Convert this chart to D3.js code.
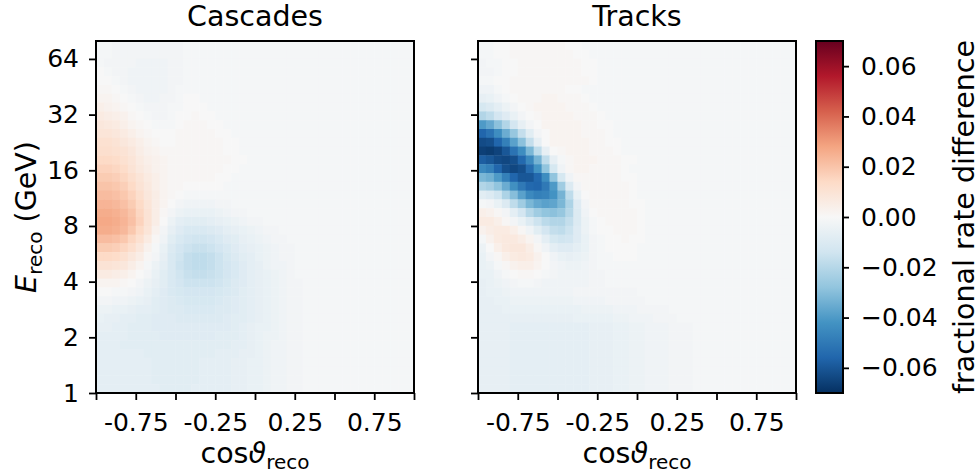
<!DOCTYPE html>
<html>
<head>
<meta charset="utf-8">
<script src="https://cdn.jsdelivr.net/npm/d3@7.9.0/dist/d3.min.js"></script>
<style>
  body { margin: 0; background: #fff; }
  svg { display: block; font-family: "DejaVu Sans", sans-serif; }
</style>
</head>
<body>
<svg id="chart" width="980" height="473"></svg>
<script>
// -------------------------
// Data: fractional rate difference in units of 0.001
// 40 x 40 bins, rows from highest energy (top) to lowest, columns from cos = -1 to 1
// -------------------------
const cascades = [
  [-1,-1,-2,-2,-2,-2,-2,-2,-2,-2,-2,-1,-1,-1,-1,-1,-1,-1,-1,-1,-1,-1,-1,-1,-1,-1,-1,-1,-1,-1,-1,-1,-1,-1,-1,-1,-1,-1,-1,-1],
  [-1,-1,-2,-2,-2,-2,-2,-2,-2,-2,-2,-1,-1,-1,-1,-1,-1,-1,-1,-1,-1,-1,-1,-1,-1,-1,-1,-1,-1,-1,-1,-1,-1,-1,-1,-1,-1,-1,-1,-1],
  [-1,-2,-2,-2,-2,-3,-3,-3,-3,-2,-2,-1,-1,-1,-1,-1,-1,-1,-1,-1,-1,-1,-1,-1,-1,-1,-1,-1,-1,-1,-1,-1,-1,-1,-1,-1,-1,-1,-1,-1],
  [0,-1,-2,-2,-3,-3,-3,-3,-3,-2,-2,-1,-1,-1,-1,-1,-1,-1,-1,-1,-1,-1,-1,-1,-1,-1,-1,-1,-1,-1,-1,-1,-1,-1,-1,-1,-1,-1,-1,-1],
  [0,0,-1,-2,-3,-3,-3,-3,-3,-2,-2,-1,-1,-1,-1,-1,-1,-1,-1,-1,-1,-1,-1,-1,-1,-1,-1,-1,-1,-1,-1,-1,-1,-1,-1,-1,-1,-1,-1,-1],
  [1,1,0,-1,-2,-3,-3,-3,-3,-2,-1,-1,-1,-1,-1,-1,-1,-1,-1,-1,-1,-1,-1,-1,-1,-1,-1,-1,-1,-1,-1,-1,-1,-1,-1,-1,-1,-1,-1,-1],
  [2,2,1,0,-1,-2,-3,-3,-2,-2,-1,0,0,-1,-1,-1,-1,-1,-1,-1,-1,-1,-1,-1,-1,-1,-1,-1,-1,-1,-1,-1,-1,-1,-1,-1,-1,-1,-1,-1],
  [4,3,2,1,0,-1,-2,-2,-2,-1,-1,0,0,0,-1,-1,-1,-1,-1,-1,-1,-1,-1,-1,-1,-1,-1,-1,-1,-1,-1,-1,-1,-1,-1,-1,-1,-1,-1,-1],
  [6,5,4,3,1,0,-1,-2,-2,-1,0,0,1,0,0,-1,-1,-1,-1,-1,-1,-1,-1,-1,-1,-1,-1,-1,-1,-1,-1,-1,-1,-1,-1,-1,-1,-1,-1,-1],
  [8,7,6,4,2,1,0,-1,-1,-1,0,1,1,1,0,0,-1,-1,-1,-1,-1,-1,-1,-1,-1,-1,-1,-1,-1,-1,-1,-1,-1,-1,-1,-1,-1,-1,-1,-1],
  [9,9,8,6,4,2,1,0,0,0,1,1,1,1,1,0,0,-1,-1,-1,-1,-1,-1,-1,-1,-1,-1,-1,-1,-1,-1,-1,-1,-1,-1,-1,-1,-1,-1,-1],
  [11,11,10,8,6,4,2,1,0,0,1,1,1,1,1,1,0,0,-1,-1,-1,-1,-1,-1,-1,-1,-1,-1,-1,-1,-1,-1,-1,-1,-1,-1,-1,-1,-1,-1],
  [12,12,11,10,8,5,3,2,1,1,1,1,1,1,1,1,0,0,-1,-1,-1,-1,-1,-1,-1,-1,-1,-1,-1,-1,-1,-1,-1,-1,-1,-1,-1,-1,-1,-1],
  [14,14,13,11,9,6,4,3,2,1,1,1,1,1,1,1,1,0,0,-1,-1,-1,-1,-1,-1,-1,-1,-1,-1,-1,-1,-1,-1,-1,-1,-1,-1,-1,-1,-1],
  [16,16,15,13,10,7,5,3,2,1,1,1,1,1,1,1,0,0,-1,-1,-1,-1,-1,-1,-1,-1,-1,-1,-1,-1,-1,-1,-1,-1,-1,-1,-1,-1,-1,-1],
  [18,18,17,15,12,9,6,4,2,1,1,1,1,1,1,0,0,-1,-1,-1,-1,-1,-1,-1,-1,-1,-1,-1,-1,-1,-1,-1,-1,-1,-1,-1,-1,-1,-1,-1],
  [20,20,19,17,14,10,7,4,2,1,1,0,0,0,0,0,-1,-1,-1,-1,-1,-1,-1,-1,-1,-1,-1,-1,-1,-1,-1,-1,-1,-1,-1,-1,-1,-1,-1,-1],
  [22,22,21,19,16,12,8,5,2,1,0,-1,-1,-1,-1,-1,-1,-1,-1,-1,-1,-1,-1,-1,-1,-1,-1,-1,-1,-1,-1,-1,-1,-1,-1,-1,-1,-1,-1,-1],
  [24,24,23,21,18,14,9,5,2,0,-2,-3,-3,-3,-3,-2,-2,-1,-1,-1,-1,-1,-1,-1,-1,-1,-1,-1,-1,-1,-1,-1,-1,-1,-1,-1,-1,-1,-1,-1],
  [26,26,25,23,20,15,10,5,1,-2,-4,-5,-5,-5,-5,-4,-3,-2,-2,-1,-1,-1,-1,-1,-1,-1,-1,-1,-1,-1,-1,-1,-1,-1,-1,-1,-1,-1,-1,-1],
  [27,27,26,24,21,16,10,5,0,-4,-7,-8,-8,-8,-7,-6,-5,-4,-3,-2,-2,-1,-1,-1,-1,-1,-1,-1,-1,-1,-1,-1,-1,-1,-1,-1,-1,-1,-1,-1],
  [26,26,25,23,19,14,9,3,-2,-6,-9,-11,-11,-11,-10,-9,-7,-6,-5,-4,-3,-2,-2,-1,-1,-1,-1,-1,-1,-1,-1,-1,-1,-1,-1,-1,-1,-1,-1,-1],
  [22,22,21,19,15,11,6,1,-3,-8,-11,-13,-14,-14,-13,-11,-9,-8,-6,-5,-4,-3,-2,-2,-1,-1,-1,-1,-1,-1,-1,-1,-1,-1,-1,-1,-1,-1,-1,-1],
  [18,18,17,15,12,8,3,-1,-5,-10,-13,-15,-16,-16,-15,-13,-11,-9,-7,-6,-5,-4,-3,-2,-2,-1,-1,-1,-1,-1,-1,-1,-1,-1,-1,-1,-1,-1,-1,-1],
  [14,14,13,11,8,5,1,-2,-6,-11,-14,-17,-18,-18,-17,-15,-12,-10,-8,-7,-5,-4,-3,-2,-2,-1,-1,-1,-1,-1,-1,-1,-1,-1,-1,-1,-1,-1,-1,-1],
  [10,10,9,8,5,2,-1,-4,-7,-11,-15,-17,-18,-18,-17,-15,-13,-11,-9,-7,-6,-4,-3,-3,-2,-1,-1,-1,-1,-1,-1,-1,-1,-1,-1,-1,-1,-1,-1,-1],
  [6,6,5,4,2,0,-2,-5,-8,-11,-14,-16,-17,-17,-16,-15,-13,-11,-9,-7,-6,-5,-4,-3,-2,-1,-1,-1,-1,-1,-1,-1,-1,-1,-1,-1,-1,-1,-1,-1],
  [2,2,2,1,0,-2,-4,-6,-8,-11,-13,-15,-15,-15,-15,-14,-12,-10,-9,-7,-6,-5,-4,-3,-2,-2,-1,-1,-1,-1,-1,-1,-1,-1,-1,-1,-1,-1,-1,-1],
  [0,0,-1,-1,-2,-3,-5,-7,-9,-11,-12,-13,-13,-13,-13,-12,-11,-10,-8,-7,-6,-5,-4,-3,-2,-2,-1,-1,-1,-1,-1,-1,-1,-1,-1,-1,-1,-1,-1,-1],
  [-2,-2,-3,-3,-4,-5,-6,-8,-9,-10,-11,-12,-12,-12,-12,-11,-10,-9,-8,-7,-6,-5,-4,-3,-2,-2,-1,-1,-1,-1,-1,-1,-1,-1,-1,-1,-1,-1,-1,-1],
  [-4,-4,-5,-5,-6,-7,-7,-8,-9,-10,-10,-11,-11,-11,-11,-10,-10,-9,-8,-7,-6,-5,-4,-3,-2,-2,-1,-1,-1,-1,-1,-1,-1,-1,-1,-1,-1,-1,-1,-1],
  [-5,-6,-6,-7,-7,-8,-8,-9,-9,-9,-10,-10,-10,-10,-10,-10,-9,-8,-8,-7,-6,-5,-4,-3,-2,-2,-1,-1,-1,-1,-1,-1,-1,-1,-1,-1,-1,-1,-1,-1],
  [-6,-6,-7,-7,-8,-8,-8,-9,-9,-9,-9,-9,-9,-9,-9,-9,-9,-8,-7,-6,-5,-5,-4,-3,-2,-2,-1,-1,-1,-1,-1,-1,-1,-1,-1,-1,-1,-1,-1,-1],
  [-7,-7,-7,-7,-8,-8,-8,-8,-9,-9,-9,-9,-9,-9,-9,-8,-8,-8,-7,-6,-5,-4,-4,-3,-2,-2,-1,-1,-1,-1,-1,-1,-1,-1,-1,-1,-1,-1,-1,-1],
  [-7,-7,-7,-8,-8,-8,-8,-8,-8,-8,-8,-8,-8,-8,-8,-8,-8,-7,-7,-6,-5,-4,-3,-3,-2,-2,-1,-1,-1,-1,-1,-1,-1,-1,-1,-1,-1,-1,-1,-1],
  [-7,-7,-7,-7,-7,-7,-8,-8,-8,-8,-8,-8,-8,-8,-8,-7,-7,-7,-6,-6,-5,-4,-3,-3,-2,-2,-1,-1,-1,-1,-1,-1,-1,-1,-1,-1,-1,-1,-1,-1],
  [-7,-7,-7,-7,-7,-7,-7,-8,-8,-8,-8,-8,-8,-7,-7,-7,-7,-6,-6,-5,-5,-4,-3,-3,-2,-2,-1,-1,-1,-1,-1,-1,-1,-1,-1,-1,-1,-1,-1,-1],
  [-7,-7,-7,-7,-7,-7,-7,-8,-8,-8,-8,-8,-8,-7,-7,-7,-7,-6,-6,-5,-5,-4,-3,-3,-2,-2,-1,-1,-1,-1,-1,-1,-1,-1,-1,-1,-1,-1,-1,-1],
  [-7,-7,-7,-7,-7,-7,-7,-8,-8,-8,-8,-8,-8,-7,-7,-7,-7,-6,-6,-5,-5,-4,-3,-3,-2,-2,-1,-1,-1,-1,-1,-1,-1,-1,-1,-1,-1,-1,-1,-1],
  [-7,-7,-7,-7,-7,-7,-7,-7,-8,-8,-8,-8,-7,-7,-7,-7,-7,-6,-6,-5,-5,-4,-3,-3,-2,-2,-1,-1,-1,-1,-1,-1,-1,-1,-1,-1,-1,-1,-1,-1],
  [-7,-7,-7,-7,-7,-7,-7,-7,-7,-7,-7,-7,-7,-7,-7,-7,-6,-6,-6,-5,-5,-4,-3,-3,-2,-2,-1,-1,-1,-1,-1,-1,-1,-1,-1,-1,-1,-1,-1,-1]
];

const tracks = [
  // row 0
  [-1,-1,0,0,1,1,1,1,1,1,1,0,0,-1,-1,-1,-1,-1,-1,-1,-1,-1,-1,-1,-1,-1,-1,-1,-1,-1,-1,-1,-1,-1,-1,-1,-1,-1,-1,-1],
  [-1,-1,0,0,1,1,1,1,1,1,1,1,0,0,-1,-1,-1,-1,-1,-1,-1,-1,-1,-1,-1,-1,-1,-1,-1,-1,-1,-1,-1,-1,-1,-1,-1,-1,-1,-1],
  [-2,-1,-1,0,0,1,1,1,1,1,1,1,1,0,0,-1,-1,-1,-1,-1,-1,-1,-1,-1,-1,-1,-1,-1,-1,-1,-1,-1,-1,-1,-1,-1,-1,-1,-1,-1],
  [-2,-2,-1,0,0,1,1,1,1,1,1,1,1,0,0,-1,-1,-1,-1,-1,-1,-1,-1,-1,-1,-1,-1,-1,-1,-1,-1,-1,-1,-1,-1,-1,-1,-1,-1,-1],
  [-1,-1,0,0,1,1,1,1,1,1,1,1,1,1,0,-1,-1,-1,-1,-1,-1,-1,-1,-1,-1,-1,-1,-1,-1,-1,-1,-1,-1,-1,-1,-1,-1,-1,-1,-1],
  [-3,-3,-1,0,1,1,1,1,1,1,1,0,0,-1,-1,-1,-1,-1,-1,-1,-1,-1,-1,-1,-1,-1,-1,-1,-1,-1,-1,-1,-1,-1,-1,-1,-1,-1,-1,-1],
  [-6,-5,-3,-1,0,1,1,1,2,2,1,1,1,0,-1,-1,-1,-1,-1,-1,-1,-1,-1,-1,-1,-1,-1,-1,-1,-1,-1,-1,-1,-1,-1,-1,-1,-1,-1,-1],
  [-12,-10,-7,-4,-2,0,1,2,2,2,2,1,1,1,0,-1,-1,-1,-1,-1,-1,-1,-1,-1,-1,-1,-1,-1,-1,-1,-1,-1,-1,-1,-1,-1,-1,-1,-1,-1],
  [-21,-18,-13,-9,-5,-2,0,1,2,2,2,2,1,1,1,0,-1,-1,-1,-1,-1,-1,-1,-1,-1,-1,-1,-1,-1,-1,-1,-1,-1,-1,-1,-1,-1,-1,-1,-1],
  [-40,-36,-29,-21,-13,-6,-2,0,2,2,2,2,2,1,1,0,0,-1,-1,-1,-1,-1,-1,-1,-1,-1,-1,-1,-1,-1,-1,-1,-1,-1,-1,-1,-1,-1,-1,-1],
  // row 10
  [-56,-52,-44,-35,-27,-17,-8,-2,0,2,2,2,2,1,1,1,0,-1,-1,-1,-1,-1,-1,-1,-1,-1,-1,-1,-1,-1,-1,-1,-1,-1,-1,-1,-1,-1,-1,-1],
  [-63,-62,-56,-48,-38,-29,-17,-6,0,2,2,2,2,2,1,1,0,0,-1,-1,-1,-1,-1,-1,-1,-1,-1,-1,-1,-1,-1,-1,-1,-1,-1,-1,-1,-1,-1,-1],
  [-66,-67,-65,-60,-52,-44,-32,-18,-6,0,1,2,2,2,1,1,1,0,-1,-1,-1,-1,-1,-1,-1,-1,-1,-1,-1,-1,-1,-1,-1,-1,-1,-1,-1,-1,-1,-1],
  [-58,-60,-63,-64,-62,-55,-45,-33,-18,-6,-1,1,2,2,2,1,1,1,0,0,-1,-1,-1,-1,-1,-1,-1,-1,-1,-1,-1,-1,-1,-1,-1,-1,-1,-1,-1,-1],
  [-45,-48,-56,-62,-64,-62,-54,-42,-28,-12,-3,1,2,2,1,1,1,1,0,-1,-1,-1,-1,-1,-1,-1,-1,-1,-1,-1,-1,-1,-1,-1,-1,-1,-1,-1,-1,-1],
  [-32,-34,-40,-48,-56,-60,-60,-55,-44,-28,-12,-3,1,1,1,1,1,1,0,0,-1,-1,-1,-1,-1,-1,-1,-1,-1,-1,-1,-1,-1,-1,-1,-1,-1,-1,-1,-1],
  [-21,-23,-28,-35,-43,-50,-55,-56,-50,-40,-25,-10,-2,1,1,1,1,1,1,0,-1,-1,-1,-1,-1,-1,-1,-1,-1,-1,-1,-1,-1,-1,-1,-1,-1,-1,-1,-1],
  [-8,-10,-14,-22,-30,-38,-45,-48,-47,-42,-33,-18,-5,0,1,1,1,1,1,0,-1,-1,-1,-1,-1,-1,-1,-1,-1,-1,-1,-1,-1,-1,-1,-1,-1,-1,-1,-1],
  [-1,-2,-5,-10,-18,-25,-32,-36,-38,-37,-32,-22,-9,-2,1,1,1,1,1,0,0,-1,-1,-1,-1,-1,-1,-1,-1,-1,-1,-1,-1,-1,-1,-1,-1,-1,-1,-1],
  [4,3,1,-2,-7,-13,-20,-25,-28,-29,-27,-20,-10,-3,0,1,1,1,1,1,0,-1,-1,-1,-1,-1,-1,-1,-1,-1,-1,-1,-1,-1,-1,-1,-1,-1,-1,-1],
  // row 20
  [6,6,4,1,-2,-5,-10,-15,-19,-21,-21,-17,-10,-4,-1,0,1,1,1,1,0,-1,-1,-1,-1,-1,-1,-1,-1,-1,-1,-1,-1,-1,-1,-1,-1,-1,-1,-1],
  [3,5,6,6,4,1,-3,-8,-13,-17,-18,-15,-9,-4,-1,0,0,1,1,1,0,-1,-1,-1,-1,-1,-1,-1,-1,-1,-1,-1,-1,-1,-1,-1,-1,-1,-1,-1],
  [-1,3,6,7,7,5,2,-2,-7,-12,-14,-13,-9,-5,-2,-1,0,0,1,0,0,-1,-1,-1,-1,-1,-1,-1,-1,-1,-1,-1,-1,-1,-1,-1,-1,-1,-1,-1],
  [-4,0,4,7,8,8,5,1,-3,-7,-9,-9,-7,-5,-2,-1,0,0,0,0,-1,-1,-1,-1,-1,-1,-1,-1,-1,-1,-1,-1,-1,-1,-1,-1,-1,-1,-1,-1],
  [-5,-2,1,4,6,7,6,3,0,-3,-5,-6,-5,-4,-2,-1,-1,0,0,0,-1,-1,-1,-1,-1,-1,-1,-1,-1,-1,-1,-1,-1,-1,-1,-1,-1,-1,-1,-1],
  [-5,-4,-1,1,3,4,4,2,0,-2,-3,-4,-4,-3,-2,-1,-1,-1,-1,-1,-1,-1,-1,-1,-1,-1,-1,-1,-1,-1,-1,-1,-1,-1,-1,-1,-1,-1,-1,-1],
  [-5,-5,-3,-1,0,1,1,0,-1,-2,-3,-3,-3,-3,-2,-2,-1,-1,-1,-1,-1,-1,-1,-1,-1,-1,-1,-1,-1,-1,-1,-1,-1,-1,-1,-1,-1,-1,-1,-1],
  [-6,-5,-4,-3,-2,-1,-1,-2,-3,-3,-3,-3,-3,-3,-2,-2,-1,-1,-1,-1,-1,-1,-1,-1,-1,-1,-1,-1,-1,-1,-1,-1,-1,-1,-1,-1,-1,-1,-1,-1],
  [-6,-5,-5,-4,-3,-3,-3,-3,-3,-3,-3,-3,-2,-2,-2,-2,-2,-2,-2,-2,-1,-1,-1,-1,-1,-1,-1,-1,-1,-1,-1,-1,-1,-1,-1,-1,-1,-1,-1,-1],
  [-6,-6,-5,-5,-4,-4,-4,-4,-4,-4,-4,-4,-3,-3,-3,-3,-2,-2,-2,-2,-2,-1,-1,-1,-1,-1,-1,-1,-1,-1,-1,-1,-1,-1,-1,-1,-1,-1,-1,-1],
  // row 30
  [-6,-6,-6,-5,-5,-5,-5,-5,-5,-5,-5,-5,-5,-4,-4,-4,-4,-3,-3,-3,-2,-2,-2,-2,-1,-1,-1,-1,-1,-1,-1,-1,-1,-1,-1,-1,-1,-1,-1,-1],
  [-6,-6,-6,-6,-6,-6,-6,-6,-6,-6,-6,-6,-5,-5,-5,-5,-5,-4,-4,-3,-3,-3,-2,-2,-2,-1,-1,-1,-1,-1,-1,-1,-1,-1,-1,-1,-1,-1,-1,-1],
  [-6,-6,-6,-6,-7,-7,-7,-7,-7,-7,-7,-7,-7,-7,-6,-6,-6,-5,-5,-4,-4,-3,-3,-3,-2,-2,-2,-1,-1,-1,-1,-1,-1,-1,-1,-1,-1,-1,-1,-1],
  [-6,-6,-6,-6,-7,-7,-7,-7,-7,-7,-7,-7,-7,-7,-6,-6,-6,-5,-5,-4,-4,-3,-3,-3,-2,-2,-2,-1,-1,-1,-1,-1,-1,-1,-1,-1,-1,-1,-1,-1],
  [-6,-6,-6,-6,-7,-7,-7,-7,-7,-7,-7,-7,-7,-7,-6,-6,-6,-5,-5,-4,-4,-3,-3,-3,-2,-2,-2,-1,-1,-1,-1,-1,-1,-1,-1,-1,-1,-1,-1,-1],
  [-6,-6,-6,-6,-7,-7,-7,-7,-7,-7,-7,-7,-7,-7,-6,-6,-6,-5,-5,-4,-4,-3,-3,-3,-2,-2,-2,-1,-1,-1,-1,-1,-1,-1,-1,-1,-1,-1,-1,-1],
  [-6,-6,-6,-6,-7,-7,-7,-7,-7,-7,-7,-7,-7,-7,-6,-6,-6,-5,-5,-4,-4,-3,-3,-3,-2,-2,-2,-1,-1,-1,-1,-1,-1,-1,-1,-1,-1,-1,-1,-1],
  [-6,-6,-6,-6,-7,-7,-7,-7,-7,-7,-7,-7,-7,-7,-6,-6,-6,-5,-5,-4,-4,-3,-3,-3,-2,-2,-2,-1,-1,-1,-1,-1,-1,-1,-1,-1,-1,-1,-1,-1],
  [-6,-6,-6,-6,-7,-7,-7,-7,-7,-7,-7,-7,-7,-7,-6,-6,-6,-5,-5,-4,-4,-3,-3,-3,-2,-2,-2,-1,-1,-1,-1,-1,-1,-1,-1,-1,-1,-1,-1,-1],
  [-6,-6,-6,-6,-7,-7,-7,-7,-7,-7,-7,-7,-7,-7,-6,-6,-6,-5,-5,-4,-4,-3,-3,-3,-2,-2,-2,-1,-1,-1,-1,-1,-1,-1,-1,-1,-1,-1,-1,-1]
  // row 39
];

const panelTitles = ['Cascades', 'Tracks'];
const xTickValues = [-1, -0.75, -0.5, -0.25, 0, 0.25, 0.5, 0.75, 1];
const xTickLabels = ['', '-0.75', '', '-0.25', '', '0.25', '', '0.75', ''];
const yTickValues = [1, 2, 4, 8, 16, 32, 64];
const cbarTicks = [-0.06, -0.04, -0.02, 0, 0.02, 0.04, 0.06];
const rdbu = ['#053061', '#2166ac', '#4393c3', '#92c5de', '#d1e5f0', '#f7f7f7',
              '#fddbc7', '#f4a582', '#d6604d', '#b2182b', '#67001f'];

// -------------------------
// Layout
// -------------------------
const plotTop = 41, plotBottom = 393;
const panelX = [96, 478];
const panelW = 318;
const eMax = 80;
const vmax = 0.07;

const svg = d3.select('#chart');

const color = d3.scaleLinear()
  .domain(d3.range(rdbu.length).map(i => -vmax + i * (2 * vmax) / (rdbu.length - 1)))
  .range(rdbu)
  .interpolate(d3.interpolateRgb)
  .clamp(true);

const y = d3.scaleLog().base(2).domain([1, eMax]).range([plotBottom, plotTop]);

const nRows = 40;
const nCols = 40;
// bin edges
const cosEdges = d3.range(nCols + 1).map(i => -1 + 2 * i / nCols);
const eEdges = d3.range(nRows + 1).map(k => Math.pow(eMax, k / nRows));

[cascades, tracks].forEach((grid, p) => {
  const x = d3.scaleLinear().domain([-1, 1]).range([panelX[p], panelX[p] + panelW]);
  const g = svg.append('g');

  grid.forEach((row, r) => {
    const k = nRows - 1 - r;
    row.forEach((v, c) => {
      g.append('rect')
        .attr('x', x(cosEdges[c]))
        .attr('y', y(eEdges[k + 1]))
        .attr('width', x(cosEdges[c + 1]) - x(cosEdges[c]) + 0.4)
        .attr('height', y(eEdges[k]) - y(eEdges[k + 1]) + 0.4)
        .attr('fill', color(v / 1000));
    });
  });

  // x axis
  const xAxis = d3.axisBottom(x)
    .tickValues(xTickValues)
    .tickFormat((d, i) => xTickLabels[i])
    .tickSize(7).tickPadding(13).tickSizeOuter(0);
  const gx = svg.append('g').attr('transform', `translate(0,${plotBottom})`).call(xAxis);
  gx.select('.domain').remove();
  gx.selectAll('line').attr('stroke', '#000').attr('stroke-width', 1.8);
  gx.selectAll('text').attr('font-size', 25).attr('fill', '#000')
    .attr('font-family', '"DejaVu Sans", sans-serif');

  // y axis
  const yAxis = d3.axisLeft(y)
    .tickValues(yTickValues)
    .tickFormat(p === 0 ? d3.format('d') : () => '')
    .tickSize(7).tickPadding(10).tickSizeOuter(0);
  const gy = svg.append('g').attr('transform', `translate(${panelX[p]},0)`).call(yAxis);
  gy.select('.domain').remove();
  gy.selectAll('line').attr('stroke', '#000').attr('stroke-width', 1.8);
  gy.selectAll('text').attr('font-size', 25).attr('fill', '#000')
    .attr('font-family', '"DejaVu Sans", sans-serif');

  // frame
  svg.append('rect')
    .attr('x', panelX[p]).attr('y', plotTop)
    .attr('width', panelW).attr('height', plotBottom - plotTop)
    .attr('fill', 'none').attr('stroke', '#000').attr('stroke-width', 2);

  // title
  svg.append('text')
    .attr('x', panelX[p] + panelW / 2).attr('y', 26)
    .attr('text-anchor', 'middle').attr('font-size', 28.5)
    .text(panelTitles[p]);

  // x label
  const xl = svg.append('text')
    .attr('x', panelX[p] + panelW / 2).attr('y', 463)
    .attr('text-anchor', 'middle').attr('font-size', 28.5);
  xl.append('tspan').text('cos');
  xl.append('tspan').attr('font-style', 'italic').text('ϑ');
  xl.append('tspan').attr('font-size', 20).attr('dy', 6).text('reco');
});

// y label
const yl = svg.append('text')
  .attr('transform', `translate(36,${(plotTop + plotBottom) / 2}) rotate(-90)`)
  .attr('text-anchor', 'middle').attr('font-size', 28.5);
yl.append('tspan').attr('font-style', 'italic').text('E');
yl.append('tspan').attr('font-size', 20).attr('dy', 6).text('reco');
yl.append('tspan').attr('dy', -6).text(' (GeV)');

// -------------------------
// Colorbar
// -------------------------
const cbX = 816, cbW = 27;
const cy = d3.scaleLinear().domain([-vmax, vmax]).range([plotBottom, plotTop]);
const grad = svg.append('defs').append('linearGradient')
  .attr('id', 'cbgrad').attr('x1', 0).attr('y1', 1).attr('x2', 0).attr('y2', 0);
rdbu.forEach((c, i) => {
  grad.append('stop').attr('offset', i / (rdbu.length - 1)).attr('stop-color', c);
});
svg.append('rect')
  .attr('x', cbX).attr('y', plotTop).attr('width', cbW).attr('height', plotBottom - plotTop)
  .attr('fill', 'url(#cbgrad)').attr('stroke', '#000').attr('stroke-width', 2);

const cAxis = d3.axisRight(cy)
  .tickValues(cbarTicks)
  .tickFormat(d3.format('.2f'))
  .tickSize(6).tickPadding(12).tickSizeOuter(0);
const gc = svg.append('g').attr('transform', `translate(${cbX + cbW},0)`).call(cAxis);
gc.select('.domain').remove();
gc.selectAll('line').attr('stroke', '#000').attr('stroke-width', 1.8);
gc.selectAll('text').attr('font-size', 25).attr('fill', '#000')
  .attr('font-family', '"DejaVu Sans", sans-serif');

svg.append('text')
  .attr('transform', `translate(974,${(plotTop + plotBottom) / 2}) rotate(-90)`)
  .attr('text-anchor', 'middle').attr('font-size', 28.5)
  .text('fractional rate difference');
</script>
</body>
</html>
